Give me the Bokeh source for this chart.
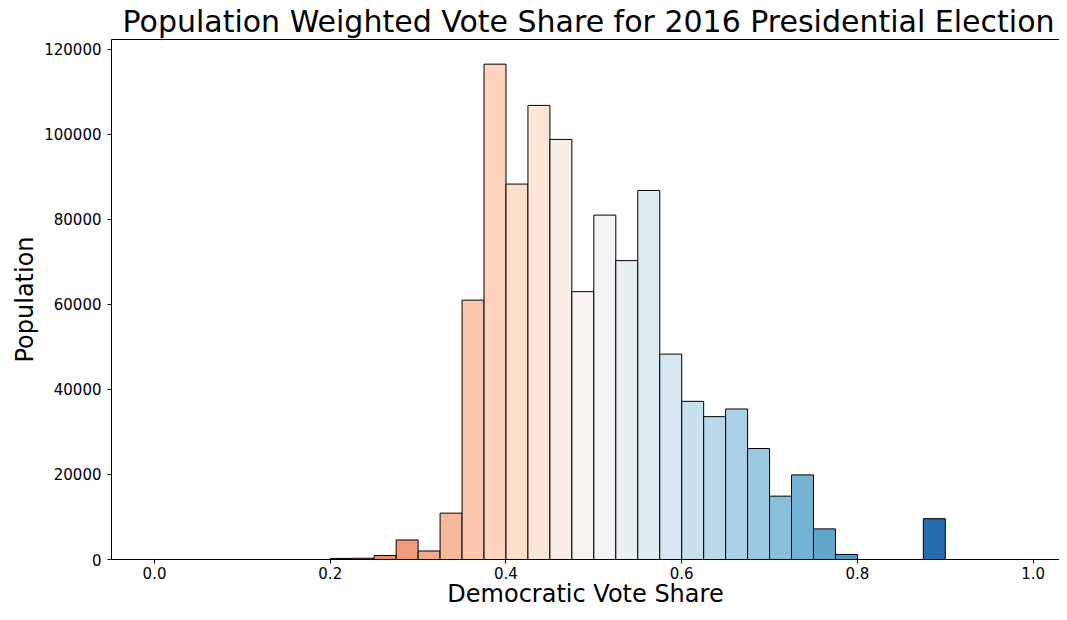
from bokeh.plotting import figure
from bokeh.models import ColumnDataSource, FixedTicker, PrintfTickFormatter, Range1d, LinearAxis, Title
from bokeh.embed import file_html
from bokeh.resources import INLINE

# Histogram bins (width 0.025) and population weights
bin_left = [0.200, 0.225, 0.250, 0.275, 0.300, 0.325, 0.350, 0.375, 0.400, 0.425,
            0.450, 0.475, 0.500, 0.525, 0.550, 0.575, 0.600, 0.625, 0.650, 0.675,
            0.700, 0.725, 0.750, 0.775, 0.875]
bin_right = [0.225, 0.250, 0.275, 0.300, 0.325, 0.350, 0.375, 0.400, 0.425, 0.450,
             0.475, 0.500, 0.525, 0.550, 0.575, 0.600, 0.625, 0.650, 0.675, 0.700,
             0.725, 0.750, 0.775, 0.800, 0.900]
population = [250, 300, 950, 4600, 2000, 10900, 61000, 116500, 88300, 106800,
              98800, 63000, 81000, 70300, 86800, 48300, 37200, 33600, 35400, 26100,
              14900, 19900, 7200, 1200, 9600]

x_ticks = [0.0, 0.2, 0.4, 0.6, 0.8, 1.0]
y_ticks = [0, 20000, 40000, 60000, 80000, 100000, 120000]

# RdBu colormap anchors (matplotlib), positions 0..1 in steps of 0.1
rdbu = ["#67001f", "#b2182b", "#d6604d", "#f4a582", "#fddbc7", "#f7f7f7",
        "#d1e5f0", "#92c5de", "#4393c3", "#2166ac", "#053061"]


def cmap(v):
    v = min(max(v, 0.0), 1.0) * 10
    i = min(int(v), 9)
    t = v - i
    a, b = rdbu[i], rdbu[i + 1]
    ca = [int(a[k:k + 2], 16) for k in (1, 3, 5)]
    cb = [int(b[k:k + 2], 16) for k in (1, 3, 5)]
    c = [round(ca[j] + (cb[j] - ca[j]) * t) for j in range(3)]
    return "#%02x%02x%02x" % tuple(c)


colors = [cmap((l + r) / 2) for l, r in zip(bin_left, bin_right)]

src = ColumnDataSource(dict(left=bin_left, right=bin_right, top=population,
                            bottom=[0] * len(population), color=colors))

FONT = "DejaVu Sans"

p = figure(width=1059, height=604, output_backend="svg", toolbar_location=None,
           x_range=Range1d(-0.049, 1.03), y_range=Range1d(0, 122300),
           title="Population Weighted Vote Share for 2016 Presidential Election",
           min_border_left=111, min_border_right=0, min_border_top=33, min_border_bottom=10)

p.quad(left="left", right="right", top="top", bottom="bottom", source=src,
       fill_color="color", line_color="black", line_width=1)

p.title.text_font = FONT
p.title.text_font_size = "30px"
p.title.text_font_style = "normal"
p.title.align = "left"
p.title.offset = 11
p.title.standoff = 2
p.title.text_color = "black"

p.grid.visible = False
p.outline_line_color = None
p.background_fill_color = "white"

for ax in (p.xaxis[0], p.yaxis[0]):
    ax.axis_line_color = "black"
    ax.major_tick_line_color = "black"
    ax.minor_tick_line_color = None
    ax.major_tick_out = 4
    ax.major_tick_in = 0
    ax.major_label_text_font = FONT
    ax.major_label_text_font_size = "15px"
    ax.major_label_text_color = "black"
    ax.axis_label_text_font = FONT
    ax.axis_label_text_font_size = "24px"
    ax.axis_label_text_font_style = "normal"
    ax.axis_label_text_color = "black"

p.xaxis.ticker = FixedTicker(ticks=x_ticks)
p.xaxis.formatter = PrintfTickFormatter(format="%.1f")
p.xaxis.major_label_standoff = 3

xlabel = Title(text="Democratic Vote Share", align="center", text_font=FONT,
               text_font_size="24px", text_font_style="normal", text_color="black",
               standoff=-7, offset=9)
p.add_layout(xlabel, "below")

p.yaxis.axis_label = "Population"
p.yaxis.ticker = FixedTicker(ticks=y_ticks)
p.yaxis.formatter = PrintfTickFormatter(format="%d")
p.yaxis.major_label_standoff = 6
p.yaxis.axis_label_standoff = 2

top_axis = LinearAxis(major_tick_line_color=None, minor_tick_line_color=None,
                      major_label_text_font_size="0px", axis_line_color="black",
                      ticker=FixedTicker(ticks=[]))
p.add_layout(top_axis, "above")

open("out.html", "w").write(file_html(p, INLINE))
